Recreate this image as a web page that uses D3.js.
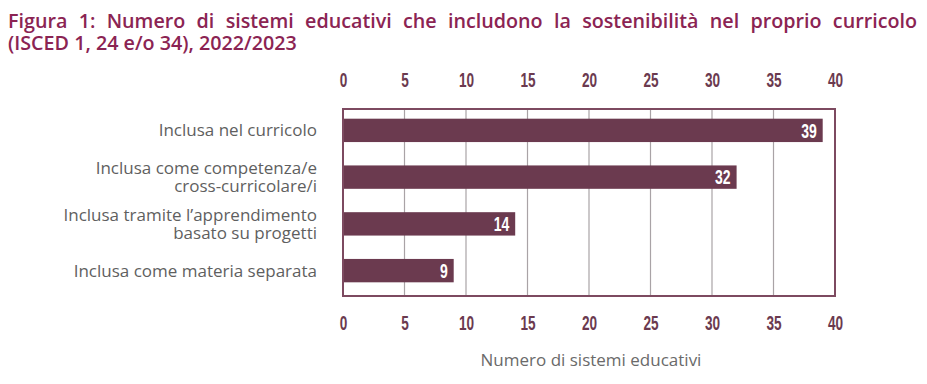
<!DOCTYPE html>
<html>
<head>
<meta charset="utf-8">
<script src="https://cdn.jsdelivr.net/npm/d3@7"></script>
<style>
  body { margin: 0; background: #fff; }
  svg { display: block; }
</style>
</head>
<body>
<script>
var titleLines = [
  "Figura 1: Numero di sistemi educativi che includono la sostenibilità nel proprio curricolo",
  "(ISCED 1, 24 e/o 34), 2022/2023"
];
var categories = [
  ["Inclusa nel curricolo"],
  ["Inclusa come competenza/e", "cross-curricolare/i"],
  ["Inclusa tramite l\u2019apprendimento", "basato su progetti"],
  ["Inclusa come materia separata"]
];
var values = [39, 32, 14, 9];
var ticks = [0, 5, 10, 15, 20, 25, 30, 35, 40];
var axisTitle = "Numero di sistemi educativi";

var width = 927, height = 384;
var maroon = "#6b3a4f";
var narrow = "'Liberation Sans', Arial, sans-serif";
var humanist = "'Open Sans', 'Noto Sans', sans-serif";

var svg = d3.select("body").append("svg")
  .attr("width", width)
  .attr("height", height);

// squeeze bold digits so they look like a condensed face
function condense(sel, k) {
  sel.each(function () {
    var len = this.getComputedTextLength();
    d3.select(this)
      .attr("textLength", len * k)
      .attr("lengthAdjust", "spacingAndGlyphs");
  });
}

// title: pick the size from line 2, justify line 1
var title = svg.append("g");
var probe = title.append("text")
  .style("font-family", humanist)
  .style("font-size", "10px")
  .style("font-weight", 600)
  .text(titleLines[1]);
var titleSize = 10 * 289 / probe.node().getComputedTextLength();
probe.remove();

titleLines.forEach(function (line, li) {
  var words = line.split(" ");
  var yy = li == 0 ? 27.5 : 50;
  var nodes = words.map(function (w) {
    return title.append("text")
      .attr("y", yy)
      .style("font-family", humanist)
      .style("font-size", titleSize + "px")
      .style("font-weight", 600)
      .style("fill", "#8b2453")
      .text(w);
  });
  var widths = nodes.map(function (n) { return n.node().getComputedTextLength(); });
  var gap = titleSize * 0.26;
  if (li == 0) {
    gap = (917 - 8 - d3.sum(widths)) / (words.length - 1);
  }
  var xx = 8;
  nodes.forEach(function (n, i) {
    n.attr("x", xx);
    xx += widths[i] + gap;
  });
});

var plotLeft = 343, plotRight = 835, plotTop = 109, plotBottom = 296;

var x = d3.scaleLinear().domain([0, 40]).range([plotLeft, plotRight]);
var y = d3.scaleBand()
  .domain(d3.range(values.length))
  .range([107, 294])
  .paddingInner(0.5)
  .paddingOuter(0.25);

// grid
svg.append("g")
  .selectAll("line")
  .data(ticks.slice(1, -1))
  .enter()
  .append("line")
  .attr("x1", function (d) { return x(d); })
  .attr("x2", function (d) { return x(d); })
  .attr("y1", plotTop)
  .attr("y2", plotBottom)
  .attr("stroke", "#a9a3a6")
  .attr("stroke-width", 1.2);

// bars
svg.append("g")
  .selectAll("rect")
  .data(values)
  .enter()
  .append("rect")
  .attr("x", x(0))
  .attr("y", function (d, i) { return y(i); })
  .attr("width", function (d) { return x(d) - x(0); })
  .attr("height", y.bandwidth())
  .attr("fill", maroon);

// value labels
var valueLabels = svg.append("g")
  .selectAll("text")
  .data(values)
  .enter()
  .append("text")
  .attr("x", function (d) { return x(d) - 6; })
  .attr("y", function (d, i) { return y(i) + y.bandwidth() / 2; })
  .attr("dy", "0.36em")
  .attr("text-anchor", "end")
  .style("font-family", narrow)
  .style("font-size", "20px")
  .style("font-weight", "bold")
  .style("fill", "#fff")
  .text(function (d) { return d; });
condense(valueLabels, 0.7);

// frame
svg.append("rect")
  .attr("x", plotLeft)
  .attr("y", plotTop)
  .attr("width", plotRight - plotLeft)
  .attr("height", plotBottom - plotTop)
  .attr("fill", "none")
  .attr("stroke", "#7d4a60")
  .attr("stroke-width", 2);

// axes (top and bottom)
var topAxis = d3.axisTop(x).tickValues(ticks).tickSize(0).tickPadding(0);
var bottomAxis = d3.axisBottom(x).tickValues(ticks).tickSize(0).tickPadding(0);

var gTop = svg.append("g").attr("transform", "translate(0,86.5)").call(topAxis);
var gBottom = svg.append("g").attr("transform", "translate(0,315.5)").call(bottomAxis);

[gTop, gBottom].forEach(function (g) {
  g.select(".domain").remove();
  g.selectAll("text")
    .style("font-family", narrow)
    .style("font-size", "20px")
    .style("font-weight", "bold")
    .style("fill", maroon);
  condense(g.selectAll("text"), 0.68);
});
gBottom.selectAll("text").attr("dy", "0.72em");

// category labels
var cats = svg.append("g");
categories.forEach(function (lines, i) {
  var cy = y(i) + y.bandwidth() / 2;
  var start = cy - (lines.length - 1) * 8.75;
  lines.forEach(function (line, j) {
    cats.append("text")
      .attr("x", 317)
      .attr("y", start + j * 17.5)
      .attr("dy", "0.35em")
      .attr("text-anchor", "end")
      .style("font-family", humanist)
      .style("font-size", "17px")
      .style("fill", "#5f5f5f")
      .text(line);
  });
});

// axis title
svg.append("text")
  .attr("x", (481 + 701) / 2)
  .attr("y", 366)
  .attr("text-anchor", "middle")
  .style("font-family", humanist)
  .style("font-size", "17px")
  .style("fill", "#6a6a6a")
  .text(axisTitle);
</script>
</body>
</html>
